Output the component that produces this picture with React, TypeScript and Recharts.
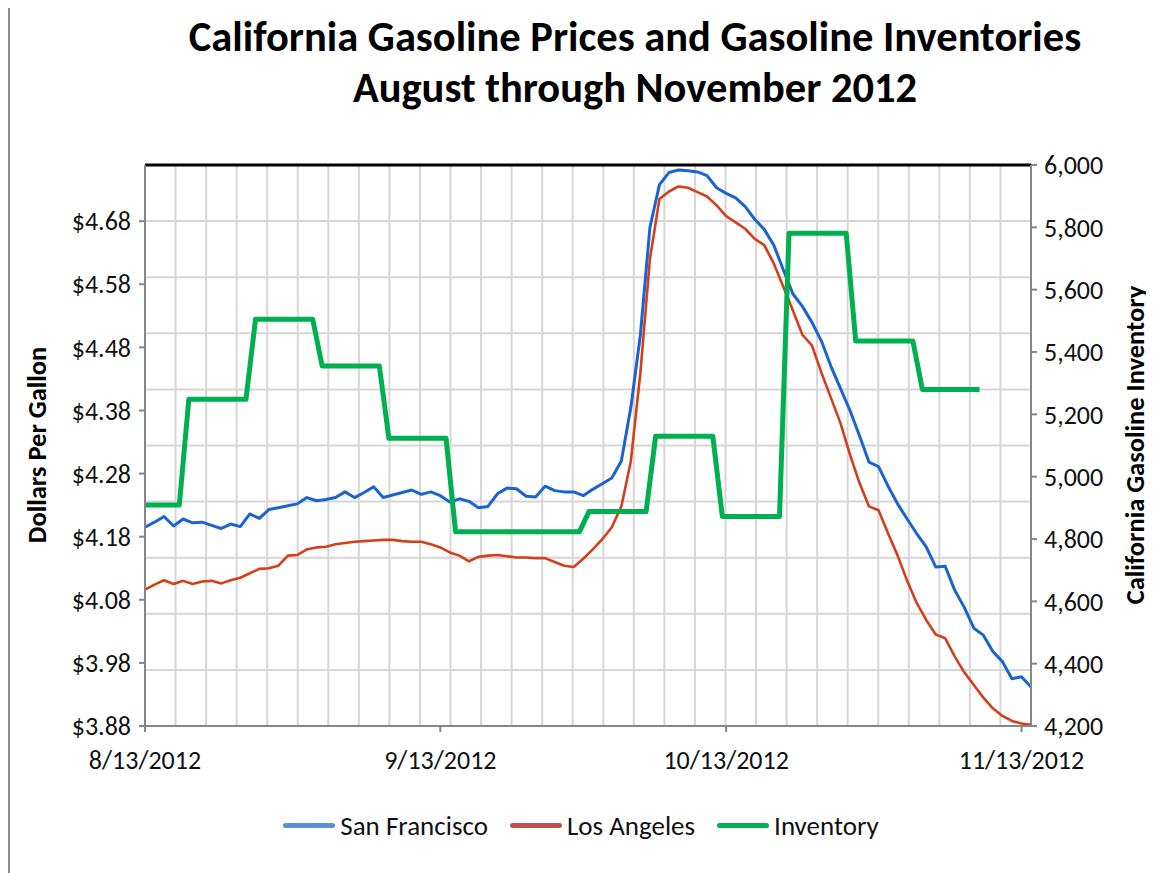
import { LineChart, Line, XAxis, YAxis, CartesianGrid, ReferenceLine } from "recharts";

// days counted from 8/13/2012
const SAN_FRANCISCO = [
  4.195, 4.203, 4.212, 4.197, 4.208, 4.202, 4.203, 4.198, 4.193, 4.2,
  4.196, 4.216, 4.209, 4.223, 4.226, 4.229, 4.232, 4.242, 4.237, 4.239,
  4.242, 4.251, 4.242, 4.25, 4.259, 4.242, 4.246, 4.25, 4.254, 4.247,
  4.251, 4.245, 4.235, 4.24, 4.236, 4.226, 4.228, 4.248, 4.257, 4.256,
  4.244, 4.243, 4.26, 4.253, 4.251, 4.251, 4.245, 4.255, 4.264, 4.273,
  4.3, 4.385, 4.5, 4.67, 4.738, 4.757, 4.761, 4.76, 4.758, 4.752,
  4.733, 4.724, 4.717, 4.703, 4.683, 4.667, 4.642, 4.603, 4.565, 4.545,
  4.52, 4.49, 4.45, 4.415, 4.38, 4.34, 4.298, 4.291, 4.26, 4.232,
  4.208, 4.185, 4.164, 4.132, 4.133, 4.095, 4.068, 4.035, 4.024, 3.998,
  3.982, 3.955, 3.958, 3.942,
];

const LOS_ANGELES = [
  4.096, 4.104, 4.111, 4.105, 4.11, 4.105, 4.109, 4.11, 4.106, 4.111,
  4.115, 4.122, 4.129, 4.13, 4.134, 4.15, 4.151, 4.16, 4.163, 4.164,
  4.168, 4.17, 4.172, 4.173, 4.174, 4.175, 4.175, 4.173, 4.172, 4.172,
  4.168, 4.163, 4.155, 4.15, 4.141, 4.148, 4.15, 4.151, 4.149, 4.147,
  4.147, 4.146, 4.146, 4.14, 4.134, 4.132, 4.145, 4.16, 4.176, 4.195,
  4.228, 4.3, 4.44, 4.62, 4.715, 4.727, 4.735, 4.733, 4.726, 4.719,
  4.705, 4.688, 4.678, 4.668, 4.652, 4.642, 4.613, 4.576, 4.539, 4.5,
  4.483, 4.44, 4.4, 4.36, 4.31, 4.265, 4.228, 4.222, 4.185, 4.15,
  4.11, 4.075, 4.048, 4.025, 4.019, 3.99, 3.965, 3.945, 3.925, 3.908,
  3.896, 3.888, 3.884, 3.882,
];

// weekly inventory, corners of the step line (day, value)
const INV_DAYS = [
  0, 3.6, 4.6, 10.6, 11.6, 17.6, 18.6, 24.6, 25.6, 31.6, 32.6, 45.6,
  46.6, 52.6, 53.6, 59.6, 60.6, 66.6, 67.6, 73.6, 74.6, 80.6, 81.6, 87.6,
];
const INV_VALUES = [
  4909, 4909, 5248, 5248, 5505, 5505, 5355, 5355, 5123, 5123, 4823, 4823,
  4888, 4888, 5130, 5130, 4872, 4872, 5781, 5781, 5435, 5435, 5280, 5280,
];

const DATE_TICKS = [0, 31, 61, 92];
const DATE_LABELS = ["8/13/2012", "9/13/2012", "10/13/2012", "11/13/2012"];
const PRICE_TICKS = [3.88, 3.98, 4.08, 4.18, 4.28, 4.38, 4.48, 4.58, 4.68];
const INV_TICKS = [4200, 4400, 4600, 4800, 5000, 5200, 5400, 5600, 5800, 6000];
const PRICE_MAX = 4.769;

const prices = SAN_FRANCISCO.map((sf, i) => ({ day: i, sf, la: LOS_ANGELES[i] }));
const inventory = INV_DAYS.map((day, i) => ({ day, inv: INV_VALUES[i] }));

const FONT = "Carlito, Calibri, Lato, sans-serif";
const AXIS = "#868686";
const tickStyle = { fontSize: 26, fill: "#111", fontFamily: FONT };

const legendItems = [
  { label: "San Francisco", color: "#5b8fd6" },
  { label: "Los Angeles", color: "#c0504d" },
  { label: "Inventory", color: "#00b050" },
];

const axisTitle = {
  position: "absolute" as const,
  top: 437,
  transform: "translate(-50%, -50%) rotate(-90deg)",
  whiteSpace: "nowrap" as const,
  fontWeight: 700,
  fontSize: 26.5,
};

export default function App() {
  return (
    <div style={{ position: "relative", width: 1146, height: 865, fontFamily: FONT }}>
      <div style={{ position: "absolute", left: 0, top: -8, width: 2, height: 873, background: "#8c8c8c" }} />
      <div
        style={{
          position: "absolute",
          left: 127,
          top: 3,
          width: 1000,
          textAlign: "center",
          fontWeight: 700,
          fontSize: 42.5,
          lineHeight: "51px",
          color: "#000",
        }}
      >
        <div>California Gasoline Prices and Gasoline Inventories</div>
        <div>August through November 2012</div>
      </div>

      <LineChart
        width={1146}
        height={800}
        data={prices}
        margin={{ top: 157, right: 43, bottom: 52, left: 57 }}
        style={{ position: "absolute", left: 0, top: 0 }}
      >
        <CartesianGrid
          stroke="#d6d6d6"
          strokeWidth={2}
          verticalCoordinatesGenerator={({ offset }: any) =>
            Array.from({ length: 28 }, (_, i) => offset.left + (offset.width * (i + 1)) / 29)
          }
          horizontalCoordinatesGenerator={({ offset }: any) =>
            Array.from({ length: 9 }, (_, i) => offset.top + (offset.height * (i + 1)) / 10)
          }
        />
        <XAxis
          dataKey="day"
          type="number"
          domain={[0, 93]}
          ticks={DATE_TICKS}
          tickFormatter={(v: number) => DATE_LABELS[DATE_TICKS.indexOf(v)]}
          height={30}
          tick={tickStyle}
          tickSize={6}
          tickMargin={19}
          axisLine={{ stroke: AXIS, strokeWidth: 2 }}
          tickLine={{ stroke: AXIS, strokeWidth: 2 }}
          allowDataOverflow
        />
        <YAxis
          yAxisId="left"
          domain={[3.88, PRICE_MAX]}
          ticks={PRICE_TICKS}
          tickFormatter={(v: number) => `$${v.toFixed(2)}`}
          width={80}
          tick={tickStyle}
          tickSize={6}
          tickMargin={8}
          axisLine={{ stroke: AXIS, strokeWidth: 2 }}
          tickLine={{ stroke: AXIS, strokeWidth: 2 }}
          allowDataOverflow
        />
        <YAxis
          yAxisId="right"
          orientation="right"
          domain={[4200, 6000]}
          ticks={INV_TICKS}
          tickFormatter={(v: number) => v.toLocaleString("en-US")}
          width={80}
          tick={tickStyle}
          tickSize={6}
          tickMargin={7}
          axisLine={{ stroke: AXIS, strokeWidth: 2 }}
          tickLine={{ stroke: AXIS, strokeWidth: 2 }}
          allowDataOverflow
        />
        <ReferenceLine yAxisId="left" y={PRICE_MAX} stroke="#000" strokeWidth={3} />
        <Line
          yAxisId="left"
          dataKey="sf"
          stroke="#1a64d2"
          strokeWidth={3}
          dot={false}
          strokeLinejoin="round"
          isAnimationActive={false}
        />
        <Line
          yAxisId="left"
          dataKey="la"
          stroke="#d43f1a"
          strokeWidth={2.6}
          dot={false}
          strokeLinejoin="round"
          isAnimationActive={false}
        />
        <Line
          yAxisId="right"
          data={inventory}
          dataKey="inv"
          stroke="#00b050"
          strokeWidth={5}
          dot={false}
          strokeLinejoin="round"
          isAnimationActive={false}
        />
      </LineChart>

      <div style={{ ...axisTitle, left: 29 }}>Dollars Per Gallon</div>
      <div style={{ ...axisTitle, left: 1127 }}>California Gasoline Inventory</div>

      <div
        style={{
          position: "absolute",
          left: 0,
          top: 801,
          width: 1146,
          display: "flex",
          justifyContent: "center",
          gap: 22,
          fontSize: 27,
          color: "#111",
        }}
      >
        {legendItems.map((item) => (
          <div key={item.label} style={{ display: "flex", alignItems: "center", gap: 5 }}>
            <span style={{ width: 52, height: 5, borderRadius: 3, background: item.color, display: "inline-block" }} />
            <span>{item.label}</span>
          </div>
        ))}
      </div>
    </div>
  );
}
